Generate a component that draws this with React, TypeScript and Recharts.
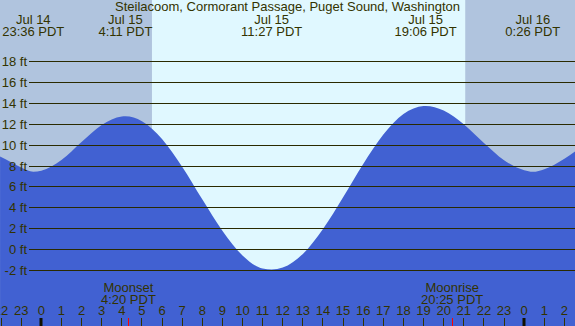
import { Area, ComposedChart, ReferenceArea, XAxis, YAxis } from 'recharts'

// hours relative to Jul 15 00:00 PDT
const tideHours = [
  -2.05, -1.5, -1, -0.4, 0, 1, 2, 3, 4, 4.18, 5, 6, 7, 8, 9, 10, 11, 11.45, 12, 13, 14, 15, 16, 17, 18,
  19, 19.1, 20, 21, 22, 23, 24, 24.43, 25, 26, 26.53
]
const tideFeet = [
  8.9, 8.35, 7.85, 7.45, 7.55, 8.58, 10.3, 11.93, 12.73, 12.75, 12.29, 10.59, 7.93, 4.81, 1.8, -0.56, -1.81,
  -1.9, -1.72, -0.41, 1.98, 5.02, 8.2, 11.01, 12.97, 13.74, 13.75, 13.32, 11.99, 10.19, 8.55, 7.6, 7.45,
  7.7, 8.7, 9.4
]

const extremeHours = [-0.4, 4.18, 11.45, 19.1, 24.43]
const extremeDates = ['Jul 14', 'Jul 15', 'Jul 15', 'Jul 15', 'Jul 16']
const extremeTimes = ['23:36 PDT', '4:11 PDT', '11:27 PDT', '19:06 PDT', '0:26 PDT']

const moonHours = [4.33, 20.42]
const moonEvents = ['Moonset', 'Moonrise']
const moonTimes = ['4:20 PDT', '20:25 PDT']

const sunrise = 5.5
const sunset = 21.07

const hourTicks = [-2, -1, 0, 1, 2, 3, 4, 5, 6, 7, 8, 9, 10, 11, 12, 13, 14, 15, 16, 17, 18, 19, 20, 21, 22, 23, 24, 25, 26]
const hourLabels = [
  '22', '23', '0', '1', '2', '3', '4', '5', '6', '7', '8', '9', '10', '11', '12', '13', '14', '15', '16',
  '17', '18', '19', '20', '21', '22', '23', '0', '1', '2'
]

const feetTicks = [-2, 0, 2, 4, 6, 8, 10, 12, 14, 16, 18]
const feetLabels = ['-2 ft', '0 ft', '2 ft', '4 ft', '6 ft', '8 ft', '10 ft', '12 ft', '14 ft', '16 ft', '18 ft']

const title = 'Steilacoom, Cormorant Passage, Puget Sound, Washington'

const W = 575
const H = 326
const X_DOMAIN: [number, number] = [-2.053, 26.526]
const Y_DOMAIN: [number, number] = [-7.31, 23.885]

const FONT = '"Liberation Sans", Arial, sans-serif'
const FS = 13
const INK = '#333300'
const NIGHT = '#b0c4de'
const DAY = '#e0f8ff'
const WATER = '#4161d2'

const data = tideHours.map((h, i) => ({ h, ft: tideFeet[i] }))

const snap = (v: number) => Math.round(v - 0.5) + 0.5

function HourTick(props: any) {
  const { x, index } = props
  const label = hourLabels[index]
  const midnight = label === '0'
  const px = snap(x)
  return (
    <g>
      <text x={x} y={315} textAnchor="middle" fill={INK} fontSize={FS} fontFamily={FONT}>
        {label}
      </text>
      {midnight ? (
        <rect x={Math.round(x) - 1.5} y={318} width={3} height={8} fill="#111100" />
      ) : (
        <line x1={px} x2={px} y1={318} y2={326} stroke={INK} strokeWidth={1} />
      )}
    </g>
  )
}

function ExtremeTick(props: any) {
  const { x, index } = props
  return (
    <g>
      <text x={x} y={24} textAnchor="middle" fill={INK} fontSize={FS} fontFamily={FONT}>
        {extremeDates[index]}
      </text>
      <text x={x} y={36} textAnchor="middle" fill={INK} fontSize={FS} fontFamily={FONT}>
        {extremeTimes[index]}
      </text>
    </g>
  )
}

function MoonTick(props: any) {
  const { x, index } = props
  const px = snap(x)
  return (
    <g>
      <text x={x} y={292} textAnchor="middle" fill={INK} fontSize={FS} fontFamily={FONT}>
        {moonEvents[index]}
      </text>
      <text x={x} y={304} textAnchor="middle" fill={INK} fontSize={FS} fontFamily={FONT}>
        {moonTimes[index]}
      </text>
      <line x1={px} x2={px} y1={318} y2={326} stroke="#ff0000" strokeWidth={1} />
    </g>
  )
}

function FeetTick(props: any) {
  const { y, index } = props
  const py = snap(y)
  return (
    <g>
      <text x={27} y={y + 4.5} textAnchor="end" fill={INK} fontSize={FS} fontFamily={FONT}>
        {feetLabels[index]}
      </text>
      <line x1={29} x2={W} y1={py} y2={py} stroke="#2a2a00" strokeWidth={1} />
    </g>
  )
}

export default function App() {
  return (
    <div style={{ position: 'absolute', left: 0, top: 0, width: W, height: H, background: NIGHT }}>
      <ComposedChart width={W} height={H} data={data} margin={{ top: -1, right: 0, bottom: -2, left: -1 }}>
        <XAxis
          dataKey="h"
          type="number"
          domain={X_DOMAIN}
          allowDataOverflow
          ticks={hourTicks}
          interval={0}
          height={1}
          tickLine={false}
          axisLine={false}
          tick={HourTick}
        />
        <XAxis
          xAxisId="ext"
          dataKey="h"
          orientation="top"
          type="number"
          domain={X_DOMAIN}
          allowDataOverflow
          ticks={extremeHours}
          interval={0}
          height={1}
          tickLine={false}
          axisLine={false}
          tick={ExtremeTick}
        />
        <XAxis
          xAxisId="moon"
          dataKey="h"
          type="number"
          domain={X_DOMAIN}
          allowDataOverflow
          ticks={moonHours}
          interval={0}
          height={1}
          tickLine={false}
          axisLine={false}
          tick={MoonTick}
        />
        <YAxis
          type="number"
          domain={Y_DOMAIN}
          allowDataOverflow
          ticks={feetTicks}
          interval={0}
          width={1}
          tickLine={false}
          axisLine={false}
          tick={FeetTick}
        />
        <ReferenceArea x1={sunrise} x2={sunset} fill={DAY} fillOpacity={1} stroke="none" ifOverflow="hidden" />
        <Area
          type="monotone"
          dataKey="ft"
          stroke="none"
          fill={WATER}
          fillOpacity={1}
          baseValue="dataMin"
          dot={false}
          activeDot={false}
          isAnimationActive={false}
        />
      </ComposedChart>
      <div
        style={{
          position: 'absolute',
          left: 0,
          top: 0,
          width: W,
          textAlign: 'center',
          fontFamily: FONT,
          fontSize: FS,
          lineHeight: '14px',
          color: INK,
          pointerEvents: 'none'
        }}
      >
        {title}
      </div>
    </div>
  )
}
